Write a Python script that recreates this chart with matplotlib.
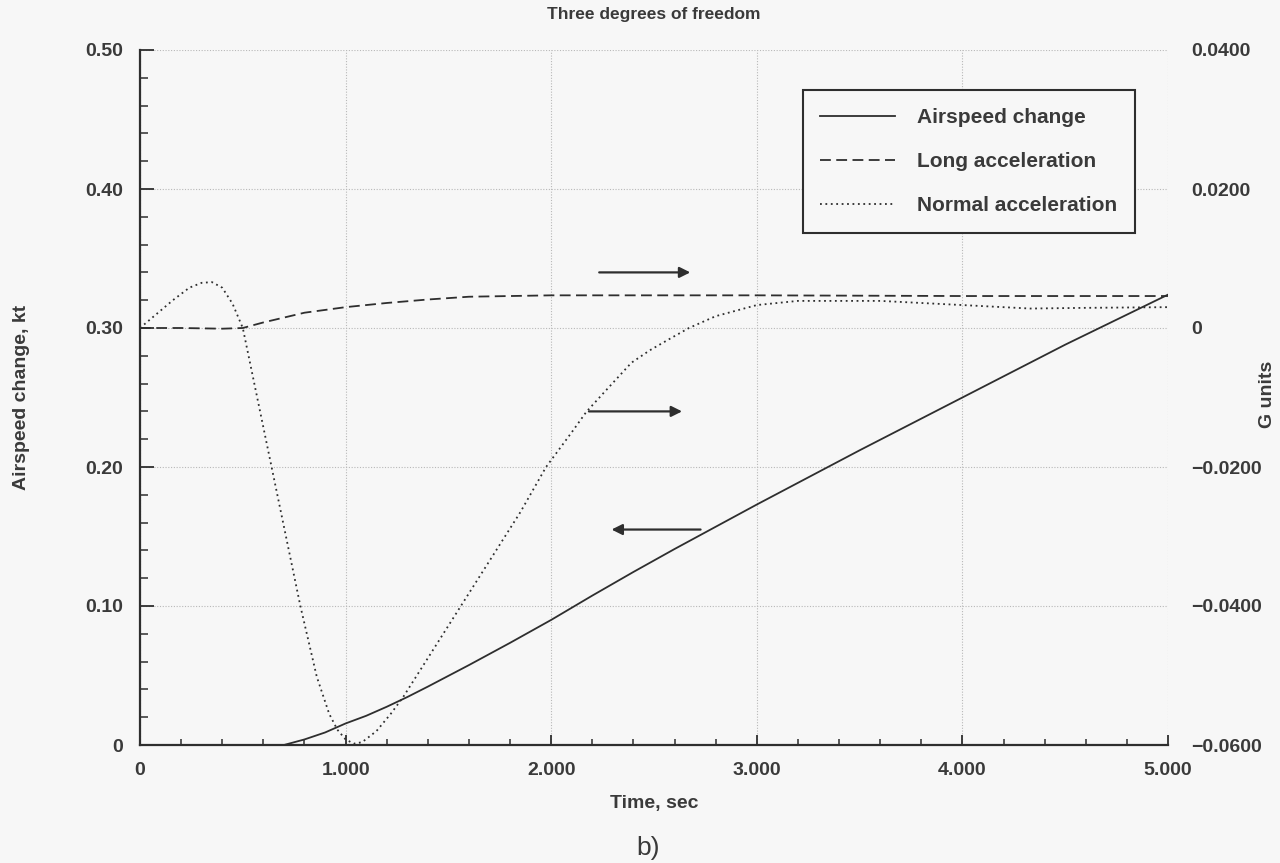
import numpy as np
import matplotlib
matplotlib.use("Agg")
import matplotlib.pyplot as plt
from matplotlib.ticker import MultipleLocator

plt.rcParams['font.family'] = ['Liberation Sans', 'DejaVu Sans']

# Airspeed change (kt) vs time (s) -- left axis
t_air = [0.00, 0.70, 0.80, 0.90, 1.00, 1.10, 1.20, 1.30, 1.40, 1.60, 1.80,
         2.00, 2.20, 2.40, 2.60, 2.80, 3.00, 3.25, 3.50, 3.75, 4.00, 4.25,
         4.50, 4.75, 5.00]
airspeed = [0.000, 0.000, 0.004, 0.009, 0.0155, 0.021, 0.0275, 0.0345, 0.042, 0.0575,
            0.0735, 0.090, 0.1075, 0.1245, 0.141, 0.157, 0.173, 0.1925, 0.212, 0.231,
            0.250, 0.269, 0.288, 0.306, 0.324]

# Longitudinal acceleration (G) -- right axis
t_long = [0.0, 0.2, 0.4, 0.5, 0.6, 0.7, 0.8, 0.9, 1.0, 1.2, 1.4, 1.6, 1.8,
          2.0, 3.0, 4.0, 5.0]
long_acc = [0.0, 0.0, -0.0001, 0.0, 0.0008, 0.0015, 0.0022, 0.0026, 0.0030, 0.0036,
            0.0041, 0.0045, 0.0046, 0.0047, 0.0047, 0.0046, 0.0046]

# Normal acceleration (G) -- right axis
t_norm = [0.00, 0.08, 0.16, 0.24, 0.30, 0.35, 0.40, 0.45, 0.50, 0.57, 0.64, 0.71, 0.78,
          0.86, 0.92, 0.96, 1.00, 1.04, 1.08, 1.15, 1.22, 1.28, 1.40, 1.55, 1.70,
          1.85, 1.975, 2.10, 2.17, 2.25, 2.39, 2.48, 2.58, 2.67, 2.80, 3.00, 3.20,
          3.60, 4.00, 4.33, 4.60, 5.00]
norm_acc = [0.0, 0.0020, 0.0040, 0.0058, 0.0065, 0.0066, 0.0058, 0.0035, 0.0000,
            -0.0100, -0.0200, -0.0300, -0.0400, -0.0502, -0.0555, -0.0578, -0.0592,
            -0.0598, -0.0596, -0.0580, -0.0555, -0.0531, -0.0475, -0.0405, -0.0335,
            -0.0265, -0.0200, -0.0150, -0.0121, -0.0095, -0.0050, -0.0032, -0.0015,
            0.0000, 0.0017, 0.0033, 0.0039, 0.0039, 0.0033, 0.0028, 0.0029, 0.0030]

x_ticks = [0, 1, 2, 3, 4, 5]
x_labels = ['0', '1.000', '2.000', '3.000', '4.000', '5.000']
left_ticks = [0, 0.1, 0.2, 0.3, 0.4, 0.5]
left_labels = ['0', '0.10', '0.20', '0.30', '0.40', '0.50']
right_ticks = [-0.06, -0.04, -0.02, 0.0, 0.02, 0.04]
right_labels = ['\u22120.0600', '\u22120.0400', '\u22120.0200', '0', '0.0200', '0.0400']

bg = '#f7f7f7'
ink = '#2e2e2e'
txt = '#3a3a3a'

fig = plt.figure(figsize=(12.8, 8.63), dpi=100, facecolor=bg)
ax = fig.add_axes([140/1280, 1-745/863, 1028/1280, 695/863])
ax.set_facecolor(bg)
ax2 = ax.twinx()

ax.set_xlim(0, 5)
ax.set_ylim(0, 0.5)
ax2.set_ylim(-0.06, 0.04)

# grid
ax.grid(True, which='major', linestyle=(0, (1, 1.5)), color='#b8b8b8', linewidth=0.8)
ax.set_axisbelow(True)

for s in ['top', 'right']:
    ax.spines[s].set_visible(False)
    ax2.spines[s].set_visible(False)
ax2.spines['left'].set_visible(False)
ax2.spines['bottom'].set_visible(False)
ax.spines['left'].set_linewidth(1.6)
ax.spines['bottom'].set_linewidth(1.6)
ax.spines['left'].set_color(ink)
ax.spines['bottom'].set_color(ink)

ax.set_xticks(x_ticks)
ax.set_xticklabels(x_labels)
ax.set_yticks(left_ticks)
ax.set_yticklabels(left_labels)
ax.xaxis.set_minor_locator(MultipleLocator(0.2))
ax.yaxis.set_minor_locator(MultipleLocator(0.02))
ax.tick_params(which='major', direction='in', length=10, width=1.3, color=ink,
               labelsize=14, labelcolor=txt, pad=12)
ax.tick_params(which='minor', direction='in', length=6, width=1.1, color=ink)
ax.tick_params(axis='x', which='major', length=7)
ax.tick_params(axis='x', which='minor', length=4)
for lab in ax.get_xticklabels() + ax.get_yticklabels():
    lab.set_fontweight('bold')

ax2.set_yticks(right_ticks)
ax2.set_yticklabels(right_labels)
ax2.tick_params(axis='y', length=0, labelsize=14, labelcolor=txt, pad=17)
for lab in ax2.get_yticklabels():
    lab.set_fontweight('bold')

l1, = ax.plot(t_air, airspeed, color=ink, linewidth=1.3, label='Airspeed change')
l2, = ax2.plot(t_long, long_acc, color=ink, linewidth=1.3, linestyle=(0, (6, 3)),
               label='Long acceleration')
l3, = ax2.plot(t_norm, norm_acc, color=ink, linewidth=1.3, linestyle=(0, (1, 2)),
               label='Normal acceleration')

# direction arrows pointing to each curve's axis
arrow = dict(arrowstyle='-|>', color=ink, lw=1.6, mutation_scale=16)
ax.annotate('', xy=(2.69, 0.34), xytext=(2.22, 0.34), arrowprops=arrow)
ax.annotate('', xy=(2.65, 0.24), xytext=(2.17, 0.24), arrowprops=arrow)
ax.annotate('', xy=(2.28, 0.155), xytext=(2.74, 0.155), arrowprops=arrow)

leg = ax2.legend(handles=[l1, l2, l3], loc='upper right', bbox_to_anchor=(0.968, 0.942),
                 fancybox=False, framealpha=1, facecolor=bg, edgecolor=ink,
                 handlelength=3.6, handletextpad=1.05, labelspacing=1.2,
                 borderpad=0.85, borderaxespad=0,
                 prop={'size': 15, 'weight': 'bold'})
leg.get_frame().set_linewidth(1.5)
for t in leg.get_texts():
    t.set_color(txt)

fig.text(654/1280, 1-14/863, 'Three degrees of freedom', ha='center', va='center',
         fontsize=12.5, fontweight='bold', color=txt)
fig.text(654/1280, 1-803/863, 'Time, sec', ha='center', va='center',
         fontsize=14, fontweight='bold', color=txt)
fig.text(22/1280, 1-397/863, 'Airspeed change, kt', ha='center', va='center',
         rotation=90, fontsize=14, fontweight='bold', color=txt)
fig.text(1268/1280, 1-394/863, 'G units', ha='center', va='center',
         rotation=90, fontsize=14, fontweight='bold', color=txt)
fig.text(648/1280, 1-848/863, 'b)', ha='center', va='center',
         fontsize=19, color=txt)

fig.savefig('out.png', dpi=100, facecolor=bg)
